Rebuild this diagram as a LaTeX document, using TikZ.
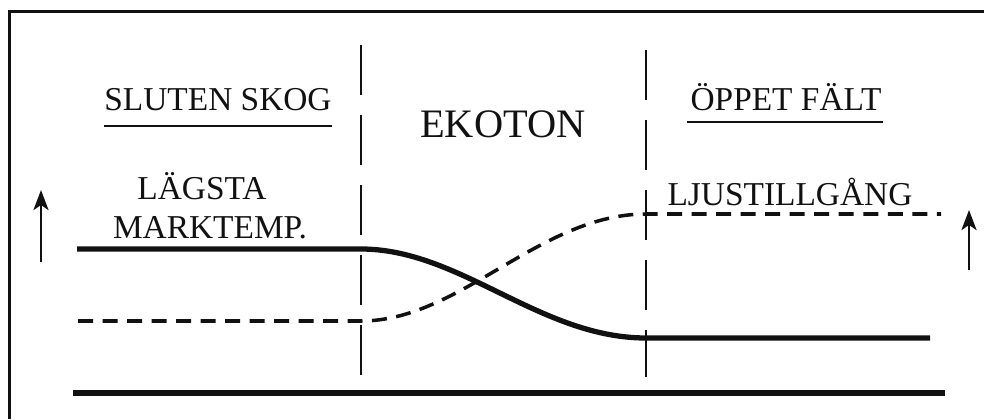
\documentclass[tikz,border=0pt]{standalone}
\usepackage{fontspec}
\setmainfont{Liberation Serif}
\usetikzlibrary{arrows.meta,positioning,calc}
\definecolor{ink}{HTML}{111111}
\tikzset{lbl/.style={inner sep=0pt,anchor=base,font=\fontsize{19}{21}\selectfont,text=ink},big/.style={lbl,font=\fontsize{23}{26}\selectfont},rule/.style={draw=ink,line width=1pt},divider/.style={draw=ink,line width=1.1pt,dash pattern=on 10mm off 4mm},temp/.style={draw=ink,line width=3pt},light/.style={draw=ink,line width=2pt,dash pattern=on 3mm off 1.9mm},rise/.style={-{Stealth[length=4mm,width=3mm,inset=1mm]},draw=ink,line width=1.6pt}}

\begin{document}
\begin{tikzpicture}[x=0.2mm,y=-0.2mm]
\useasboundingbox (0,0) rectangle (984,419);
\draw[draw=ink,line width=1.7pt] (9.5,419) -- (9.5,11.5) -- (984,11.5);
% rubriker
\node[lbl] (skog) at (218,110) {SLUTEN SKOG};
\node[big] (ekoton) at (503,137) {EKOTON};
\node[lbl] (falt) at (786,110) {ÖPPET FÄLT};
\draw[rule] ([yshift=-3.2mm]skog.base west) -- ([yshift=-3.2mm]skog.base east);
\draw[rule] ([xshift=-0.6mm,yshift=-2.4mm]falt.base west) -- ([xshift=0.2mm,yshift=-2.4mm]falt.base east);
\node[lbl] (lagsta) at (202,199) {LÄGSTA};
\node[lbl] (mark) at (210,238) {MARKTEMP.};
\node[lbl] (ljus) at (790,205) {LJUSTILLGÅNG};
% gränser
\coordinate (v1a) at (361,45);  \coordinate (v1b) at (361,377);
\coordinate (v2a) at (646,50);  \coordinate (v2b) at (646,377);
\draw[divider] (v1a) -- (v1b);
\draw[divider] (v2a) -- (v2b);
% kurvor
\coordinate (t0) at (77,249);  \coordinate (t1) at (361,249);
\coordinate (t2) at (646,338); \coordinate (t3) at (930,338);
\coordinate (l0) at (78,321);  \coordinate (l1) at (361,321);
\coordinate (l2) at (646,214); \coordinate (l3) at (941,214);
\draw[temp] (t0) -- (t1) .. controls (460,249) and (540,338) .. (t2) -- (t3);
\draw[light] (l0) -- (l1) .. controls (460,321) and (540,214) .. (l2) -- (l3);
\coordinate (b0) at (73,393);  \coordinate (b1) at (945,393);
\draw[temp] (b0) -- (b1);
% pilar
\coordinate (p0) at (41,262);  \coordinate (p1) at (41,190);
\coordinate (q0) at (969,270); \coordinate (q1) at (969,210);
\draw[rise] (p0) -- (p1);
\draw[rise] (q0) -- (q1);
\end{tikzpicture}
\end{document}
